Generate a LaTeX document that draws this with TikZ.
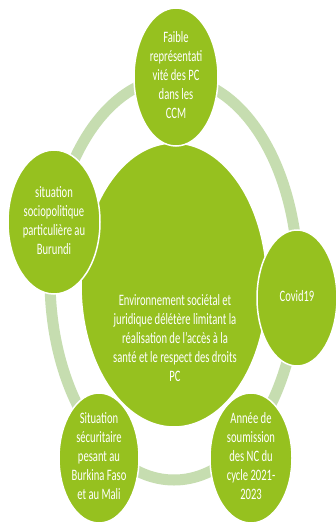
\documentclass[tikz,border=0pt]{standalone}
\usepackage{fontspec}
\usepackage{graphicx}
\setmainfont{Carlito}
\usetikzlibrary{shapes.geometric}

\definecolor{leaf}{RGB}{150,193,31}
\definecolor{sage}{RGB}{198,221,176}
\newcommand{\tall}[1]{\scalebox{1}[1.5]{\begin{tabular}{@{}c@{}}#1\end{tabular}}}

\begin{document}
\begin{tikzpicture}[x=1pt,y=-1pt,
    petal/.style={ellipse,fill=leaf,draw=white,line width=1.5pt,inner sep=0pt},
    words/.style={text=white,inner sep=0pt,font=\fontsize{10.6}{12.7}\selectfont},
    ring/.style={draw=sage,line width=11pt}]
  \useasboundingbox[fill=white] (0,0) rectangle (335,527);

  % the cycle
  \draw[ring] (174,279) ellipse [x radius=124, y radius=201];

  % hub
  \node[petal,minimum width=186pt,minimum height=284pt] (hub) at (174,285) {};
  \node[words] (hubtext) at (175,340) {\tall{Environnement sociétal et\\juridique délétère limitant la\\réalisation de l’accès à la\\santé et le respect des droits\\PC}};

  % satellites
  \node[petal,minimum width=84pt,minimum height=138pt] (ccm) at (176,77) {};
  \node[words] (ccmtext) at (ccm) {\tall{Faible\\représentati\\vité des PC\\dans les\\CCM}};

  \node[petal,minimum width=92pt,minimum height=144pt] (burundi) at (54,222) {};
  \node[words] (burunditext) at (burundi) {\tall{situation\\sociopolitique\\particulière au\\Burundi}};

  \node[petal,minimum width=80pt,minimum height=136pt] (covid) at (297,298) {};
  \node[words] (covidtext) at (covid) {\tall{Covid19}};

  \node[petal,minimum width=82pt,minimum height=130pt] (cycle) at (251,458) {};
  \node[words] (cycletext) at (cycle) {\tall{Année de\\soumission\\des NC du\\cycle 2021-\\2023}};

  \node[petal,minimum width=80pt,minimum height=130pt] (sahel) at (99,458) {};
  \node[words] (saheltext) at (sahel) {\tall{Situation\\sécuritaire\\pesant au\\Burkina Faso\\et au Mali}};
\end{tikzpicture}
\end{document}
